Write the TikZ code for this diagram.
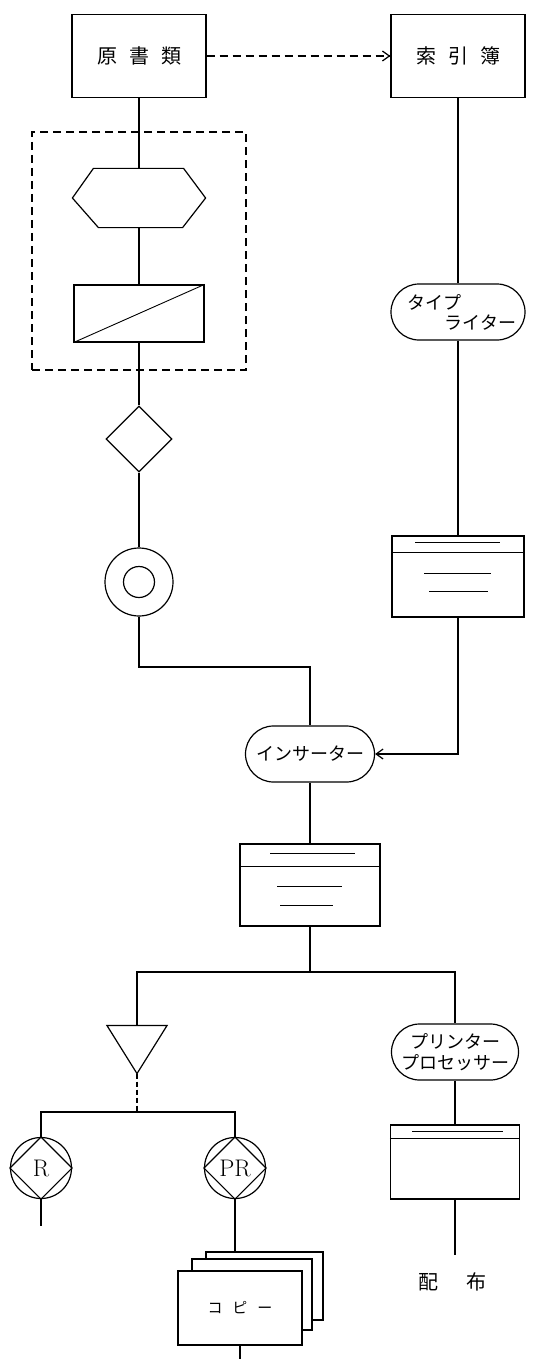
\documentclass[tikz,border=0pt]{standalone}
\usepackage{fontspec}
\newfontfamily\jp{Noto Sans CJK JP}
\usetikzlibrary{shapes.geometric,shapes.misc,arrows.meta,calc}
\begin{document}
\begin{tikzpicture}[x=1pt,y=-1pt,line width=1.2pt,
  bigbox/.style={draw,rectangle,minimum width=134pt,minimum height=83pt,inner sep=0pt,font=\jp\fontsize{20}{22}\selectfont},
  stad/.style={draw,rounded rectangle,minimum height=56pt,inner sep=1pt,font=\jp\fontsize{18}{20}\selectfont,align=left},
  cardbox/.style={draw,rectangle,inner sep=0pt},
  thinline/.style={line width=0.9pt},
  ghost/.style={rectangle,inner sep=0pt},
  frame/.style={draw,rectangle,dash pattern=on 8pt off 5pt,inner sep=0pt},
  dashline/.style={dash pattern=on 8pt off 5pt},
  shortdash/.style={dash pattern=on 5pt off 3pt},
  barb/.style={-{Straight Barb[length=7pt,width=10pt,line width=1.2pt]}},
  rcirc/.style={draw,circle,minimum size=61pt,inner sep=0pt,font=\fontsize{24}{24}\selectfont},
  lbl/.style={inner sep=0pt,font=\jp\fontsize{20}{22}\selectfont}
]
\useasboundingbox (0,0) rectangle (534,1359);
\fill[white] (0,0) rectangle (534,1359);

% top boxes
\node[bigbox] (orig) at (139,56) {原\hspace{12pt}書\hspace{12pt}類};
\node[bigbox] (idx) at (458,56) {索\hspace{12pt}引\hspace{12pt}簿};
\draw[dashline,barb] (orig.east) -- (idx.west);

% dashed frame
\node[frame,minimum width=214pt,minimum height=238pt] (grp) at (139,251) {};

% hexagon
\node[ghost,minimum width=132pt,minimum height=58pt] (hex) at (139,198) {};
\draw (hex.west) -- ($(hex.north west)+(21,0)$) -- ($(hex.north east)+(-22,0)$) -- (hex.east)
  -- ($(hex.south east)+(-23,0)$) -- ($(hex.south west)+(26,0)$) -- cycle;

% rectangle with diagonal
\node[cardbox,minimum width=130pt,minimum height=57pt] (mag) at (139,313.5) {};
\draw[thinline] (mag.south west) -- (mag.north east);

% diamond
\node[draw,diamond,minimum width=66pt,minimum height=66pt,inner sep=0pt] (dia) at (139,439) {};

% double circle
\node[draw,circle,minimum size=68pt,inner sep=0pt] (circ) at (139,582) {};
\draw (circ.center) circle[radius=15.5];

\coordinate (j1) at (139,667);

% right column
\node[stad,minimum width=136pt] (tw) at (458,312) {\hspace*{8pt}タイプ\\\hspace*{45pt}ライター};

\node[cardbox,minimum width=132pt,minimum height=81pt] (card1) at (458,576.5) {};
\draw ($(card1.north west)+(0,17)$) -- ($(card1.north east)+(0,17)$);
\draw[thinline] ($(card1.north)+(-43,7)$) -- ($(card1.north)+(42,7)$);
\draw[thinline] ($(card1.center)+(-34,-3.5)$) -- ($(card1.center)+(33,-3.5)$);
\draw[thinline] ($(card1.center)+(-29,14.5)$) -- ($(card1.center)+(30,14.5)$);

% inserter
\node[stad,minimum width=131pt] (ins) at (310,754) {インサーター};

\node[cardbox,minimum width=140pt,minimum height=82pt] (card2) at (310,885) {};
\draw ($(card2.north west)+(0,23)$) -- ($(card2.north east)+(0,23)$);
\draw[thinline] ($(card2.north)+(-40,10)$) -- ($(card2.north)+(45,10)$);
\draw[thinline] ($(card2.center)+(-33,1)$) -- ($(card2.center)+(32,1)$);
\draw[thinline] ($(card2.center)+(-30,20)$) -- ($(card2.center)+(23,20)$);

\coordinate (j2) at (310,972);

% triangle
\node[ghost,minimum width=59pt,minimum height=47pt] (tri) at (137,1049.5) {};
\draw (tri.north west) -- (tri.north east) -- (tri.south) -- cycle;

\coordinate (j3) at (137,1112);

% R and PR
\node[rcirc] (R) at (41,1168) {R};
\draw (R.north) -- (R.east) -- (R.south) -- (R.west) -- cycle;
\node[rcirc] (PR) at (235,1168) {PR};
\draw (PR.north) -- (PR.east) -- (PR.south) -- (PR.west) -- cycle;
\coordinate (Rend) at (41,1226);

% copies
\node[cardbox,fill=white,minimum width=117pt,minimum height=68pt] (copy3) at (264.5,1286) {};
\node[cardbox,fill=white,minimum width=120pt,minimum height=71pt] (copy2) at (252,1294.5) {};
\node[cardbox,fill=white,minimum width=124pt,minimum height=74pt,font=\jp\fontsize{15}{17}\selectfont] (copy1) at (240,1308) {コ\hspace{10pt}ピ\hspace{10pt}ー};
\coordinate (copyend) at (240,1359);

% printer processor
\node[stad,minimum width=129pt,align=center,font=\jp\fontsize{18}{21}\selectfont] (pp) at (455,1052) {プリンター\\プロセッサー};

\node[cardbox,minimum width=129pt,minimum height=74pt] (card3) at (455,1162) {};
\draw ($(card3.north west)+(0,14)$) -- ($(card3.north east)+(0,14)$);
\draw[thinline] ($(card3.north)+(-43,7)$) -- ($(card3.north)+(48,7)$);
\coordinate (dend) at (455,1255);
\node[lbl] (dist) at (452,1282) {配\hspace{28pt}布};

% connectors
\draw (orig.south) -- (hex.north);
\draw (hex.south) -- (mag.north);
\draw (mag.south) -- (dia.north);
\draw (dia.south) -- (circ.north);
\draw (circ.south) -- (j1) -| (ins.north);
\draw (idx.south) -- (tw.north);
\draw (tw.south) -- (card1.north);
\draw[barb] (card1.south) |- (ins.east);
\draw (ins.south) -- (card2.north);
\draw (card2.south) -- (j2);
\draw (tri.north) -- (tri.north |- j2) -- (pp.north |- j2) -- (pp.north);
\draw[shortdash] (tri.south) -- (j3);
\draw (R.north) |- (j3) -| (PR.north);
\draw (R.south) -- (Rend);
\draw (PR.south) -- (PR.south |- copy3.north);
\draw (copy1.south) -- (copyend);
\draw (pp.south) -- (card3.north);
\draw (card3.south) -- (dend);
\end{tikzpicture}
\end{document}
